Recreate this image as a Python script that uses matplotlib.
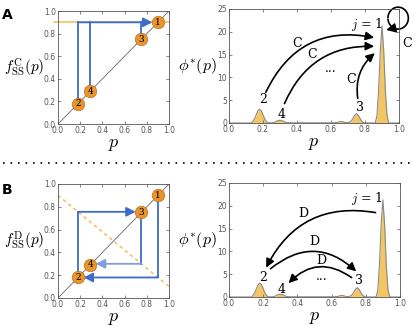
import numpy as np
import matplotlib
matplotlib.use("Agg")
import matplotlib.pyplot as plt
from matplotlib.patches import FancyArrowPatch, Arc
from matplotlib.lines import Line2D

plt.rcParams['mathtext.fontset'] = 'cm'
plt.rcParams['font.family'] = ['DejaVu Sans']

# ---- data ----
node_ids = ['1', '2', '3', '4']
node_p = [0.90, 0.18, 0.75, 0.29]
map_C_value = 0.90                 # f_SS^C(p) = constant
map_D_start = [0.0, 0.90]          # dashed line endpoints (p, f)
map_D_end = [1.0, 0.10]

p_grid = [0.00, 0.10, 0.13, 0.14, 0.15, 0.16, 0.17, 0.18, 0.19, 0.20, 0.21, 0.22, 0.23, 0.25,
          0.26, 0.27, 0.28, 0.29, 0.30, 0.31, 0.32, 0.33, 0.34, 0.36, 0.45, 0.55, 0.62,
          0.63, 0.64, 0.65, 0.66, 0.67, 0.68, 0.69, 0.70, 0.71, 0.72, 0.73, 0.74, 0.75,
          0.76, 0.77, 0.78, 0.79, 0.80, 0.86, 0.87, 0.88, 0.89, 0.90, 0.91, 0.92, 0.93,
          0.94, 1.00]
phi_vals = [0.00, 0.00, 0.00, 0.30, 0.90, 1.80, 2.70, 3.05, 2.70, 1.80, 0.90, 0.30, 0.05, 0.02,
            0.08, 0.20, 0.40, 0.55, 0.60, 0.55, 0.40, 0.20, 0.08, 0.04, 0.04, 0.04, 0.05,
            0.08, 0.15, 0.28, 0.35, 0.28, 0.15, 0.08, 0.10, 0.20, 0.50, 1.05, 1.70, 2.05,
            1.70, 1.05, 0.45, 0.12, 0.02, 0.00, 1.50, 7.00, 16.0, 21.3, 16.0, 7.00, 1.50,
            0.00, 0.00]

xticks = [0.0, 0.2, 0.4, 0.6, 0.8, 1.0]
yticks_left = [0.0, 0.2, 0.4, 0.6, 0.8, 1.0]
yticks_right = [0, 5, 10, 15, 20, 25]

# ---- styles ----
BLUE = '#3d6cc6'
LBLUE = '#7f9fdc'
ORANGE = '#e8952e'
GOLD = '#f3c565'
LORANGE = '#f5c060'

fig = plt.figure(figsize=(4.15, 3.26), dpi=100)

def style_axes(ax, yt, ylim):
    ax.set_xlim(0, 1)
    ax.set_ylim(*ylim)
    ax.set_xticks(xticks)
    ax.set_yticks(yt)
    ax.tick_params(direction='in', length=2, width=0.5, labelsize=5.5,
                   colors='#555555', pad=1.5, top=True, right=True)
    for s in ax.spines.values():
        s.set_color('#555555')
        s.set_linewidth(0.6)
    ax.set_xlabel('$p$', fontsize=13, labelpad=0)

def fmt_left(ax):
    ax.set_xticklabels(['%.1f' % v for v in xticks])
    ax.set_yticklabels(['%.1f' % v for v in yticks_left])

def nodes(ax):
    for nid, p in zip(node_ids, node_p):
        ax.plot(p, p, 'o', ms=9, mfc=ORANGE, mec='#c07020', mew=0.5, zorder=5, clip_on=False)
        ax.text(p, p, nid, fontsize=6.5, ha='center', va='center', zorder=6,
                family='DejaVu Serif')

head = '-|>,head_length=0.55,head_width=0.28'

# ---------- Panel A left ----------
axA = fig.add_axes([0.1398, 0.6196, 0.2675, 0.3466])
style_axes(axA, yticks_left, (0, 1))
fmt_left(axA)
axA.plot([0, 1], [0, 1], color='#666666', lw=0.6)
axA.plot([-0.04, 1.0], [map_C_value, map_C_value], color=LORANGE, lw=1.2, clip_on=False, zorder=1)
p1 = node_p[0]
for p in node_p[1:]:
    axA.plot([p, p], [p, map_C_value], color=BLUE, lw=1.3, zorder=3)
axA.annotate('', xy=(p1 - 0.05, map_C_value), xytext=(node_p[1], map_C_value),
             arrowprops=dict(arrowstyle=head, color=BLUE, lw=1.3, shrinkA=0, shrinkB=0),
             zorder=4)
nodes(axA)
axA.set_ylabel(r'$f_{\mathrm{SS}}^{\mathrm{C}}(p)$', fontsize=11, rotation=0, ha='center', va='center')
axA.yaxis.set_label_coords(-0.30, 0.5)

# ---------- Panel A right ----------
axA2 = fig.add_axes([0.5518, 0.6227, 0.4096, 0.3497])
style_axes(axA2, yticks_right, (0, 25))
axA2.fill_between(p_grid, phi_vals, color=GOLD, lw=0)
axA2.plot(p_grid, phi_vals, color='#8a8a8a', lw=0.8)
axA2.set_ylabel(r'$\phi^{*}(p)$', fontsize=11.5, rotation=0, ha='center', va='center')
axA2.yaxis.set_label_coords(-0.185, 0.5)

def carrow(ax, start, end, rad):
    a = FancyArrowPatch(start, end, connectionstyle='arc3,rad=%s' % rad,
                        arrowstyle='-|>,head_length=5,head_width=2.5', color='black',
                        lw=1.2, mutation_scale=1, clip_on=False)
    ax.add_patch(a)

carrow(axA2, (0.21, 6.2), (0.87, 18.6), -0.4)
carrow(axA2, (0.32, 3.7), (0.87, 16.8), -0.35)
carrow(axA2, (0.76, 4.8), (0.87, 15.7), -0.3)
tf = dict(family='DejaVu Serif', fontsize=9, ha='center', va='center')
axA2.text(0.40, 17.4, 'C', **tf)
axA2.text(0.49, 15.0, 'C', **tf)
axA2.text(0.72, 9.6, 'C', **tf)
axA2.text(1.045, 17.5, 'C', clip_on=False, **tf)
axA2.text(0.60, 12.0, '...', **tf)
axA2.text(0.81, 21.6, '$j$ = 1', **tf)
axA2.text(0.20, 5.1, '2', **tf)
axA2.text(0.31, 1.8, '4', **tf)
axA2.text(0.77, 3.5, '3', **tf)
# self loop
loop = Arc((0.995, 23.0), 0.12, 4.8, theta1=-115, theta2=195, color='black', lw=1.2, clip_on=False)
axA2.add_patch(loop)
axA2.annotate('', xy=(0.925, 20.4), xytext=(0.972, 20.8),
              arrowprops=dict(arrowstyle=head, color='black', lw=1.2, shrinkA=0, shrinkB=0),
              annotation_clip=False)

# ---------- Panel B left ----------
axB = fig.add_axes([0.1398, 0.0859, 0.2675, 0.3497])
style_axes(axB, yticks_left, (0, 1))
fmt_left(axB)
axB.plot([0, 1], [0, 1], color='#666666', lw=0.6)
axB.plot([map_D_start[0], map_D_end[0]], [map_D_start[1], map_D_end[1]], color=LORANGE, lw=1.2,
         ls=(0, (2, 2)), zorder=1)

def dline(p):
    return map_D_start[1] + (map_D_end[1] - map_D_start[1]) * p

seq = [node_p[0], node_p[1], node_p[2], node_p[3]]
hcols = [BLUE, BLUE, LBLUE]
for k in range(3):
    a, b = seq[k], seq[k + 1]
    y = dline(a)
    axB.plot([a, a], [a, y], color=BLUE, lw=1.3, zorder=3)
    direction = 1 if b > a else -1
    tip = b - direction * 0.05
    axB.annotate('', xy=(tip, y), xytext=(a, y),
                 arrowprops=dict(arrowstyle=head, color=hcols[k],
                                 lw=1.3, shrinkA=0, shrinkB=0), zorder=4)
nodes(axB)
axB.set_ylabel(r'$f_{\mathrm{SS}}^{\mathrm{D}}(p)$', fontsize=11, rotation=0, ha='center', va='center')
axB.yaxis.set_label_coords(-0.30, 0.5)

# ---------- Panel B right ----------
axB2 = fig.add_axes([0.5518, 0.089, 0.412, 0.3497])
style_axes(axB2, yticks_right, (0, 25))
axB2.fill_between(p_grid, phi_vals, color=GOLD, lw=0)
axB2.plot(p_grid, phi_vals, color='#8a8a8a', lw=0.8)
axB2.set_ylabel(r'$\phi^{*}(p)$', fontsize=11.5, rotation=0, ha='center', va='center')
axB2.yaxis.set_label_coords(-0.184, 0.5)
carrow(axB2, (0.873, 18.4), (0.21, 5.9), 0.38)
carrow(axB2, (0.23, 5.8), (0.756, 5.2), -0.45)
carrow(axB2, (0.73, 3.9), (0.337, 2.6), 0.45)
axB2.text(0.435, 18.2, 'D', **tf)
axB2.text(0.50, 12.2, 'D', **tf)
axB2.text(0.54, 8.1, 'D', **tf)
axB2.text(0.54, 4.4, '...', **tf)
axB2.text(0.805, 21.6, '$j$ = 1', **tf)
axB2.text(0.20, 4.3, '2', **tf)
axB2.text(0.31, 1.7, '4', **tf)
axB2.text(0.76, 3.7, '3', **tf)

# panel letters and separator
fig.text(0.005, 0.975, 'A', fontsize=10, fontweight='bold', va='top')
fig.text(0.005, 0.44, 'B', fontsize=10, fontweight='bold', va='top')
fig.add_artist(Line2D([0.008, 0.995], [1 - 163 / 326, 1 - 163 / 326], color='black',
                      lw=1.2, ls=(0, (1, 3.5)), transform=fig.transFigure))

fig.savefig('out.png', dpi=100)
